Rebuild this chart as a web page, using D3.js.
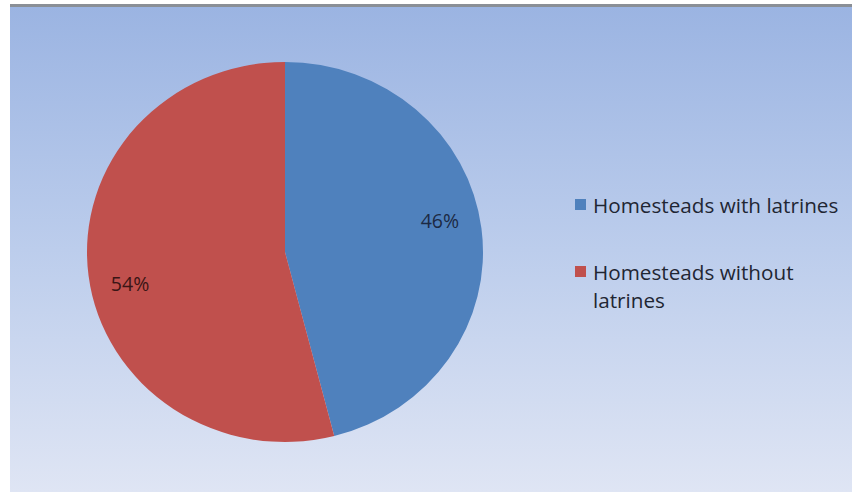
<!DOCTYPE html>
<html><head><meta charset="utf-8">
<script src="https://cdn.jsdelivr.net/npm/d3@7/dist/d3.min.js"></script>
<style>html,body{margin:0;padding:0;background:#fff;}svg{display:block;}</style>
</head><body>
<svg id="chart" width="852" height="492"></svg>
<script>
const categories = ["Homesteads with latrines", "Homesteads without latrines"];
const values = [46, 54];
const labels = ["46%", "54%"];
const legendLines = [["Homesteads with latrines"], ["Homesteads without", "latrines"]];
const colors = ["#4f81bd", "#c0504d"];

const svg = d3.select("#chart");
const defs = svg.append("defs");
const grad = defs.append("linearGradient").attr("id","bg").attr("x1",0).attr("y1",0).attr("x2",0).attr("y2",1);
grad.append("stop").attr("offset","0%").attr("stop-color","#9bb4e2");
grad.append("stop").attr("offset","50%").attr("stop-color","#bccdec");
grad.append("stop").attr("offset","100%").attr("stop-color","#dfe5f4");

svg.append("rect").attr("x",10).attr("y",7).attr("width",842).attr("height",485).attr("fill","url(#bg)");
svg.append("rect").attr("x",10).attr("y",4).attr("width",842).attr("height",3).attr("fill","#8a8f96");

const cx = 285, cy = 252, rx = 198, ry = 190;
const pie = d3.pie().sort(null).value(d => d)(values);
const arc = d3.arc().innerRadius(0).outerRadius(ry);
const g = svg.append("g").attr("transform", `translate(${cx},${cy}) scale(${rx/ry},1)`);
g.selectAll("path").data(pie).join("path")
  .attr("d", arc).attr("fill", (d,i) => colors[i]);

const labelR = ry * 0.80, shift = -4.8 * Math.PI / 180;
const lg = svg.append("g").attr("transform", `translate(${cx},${cy})`);
lg.selectAll("text").data(pie).join("text")
  .attr("x", d => Math.sin((d.startAngle + d.endAngle)/2 + shift) * labelR * rx/ry)
  .attr("y", d => -Math.cos((d.startAngle + d.endAngle)/2 + shift) * labelR)
  .attr("text-anchor","middle").attr("dominant-baseline","central")
  .attr("font-family","'Open Sans', sans-serif").attr("font-size",19.5)
  .attr("fill", (d,i) => i===0 ? "#1c2a44" : "#3a1515")
  .text((d,i) => labels[i]);

const legend = svg.append("g").attr("transform","translate(575,0)");
const legY = [205, 272];
legendLines.forEach((lines, i) => {
  legend.append("rect").attr("x",0).attr("y",legY[i]-6).attr("width",11).attr("height",11).attr("fill",colors[i]);
  lines.forEach((t, j) => {
    legend.append("text").attr("x",18).attr("y",legY[i] + j*28)
      .attr("dominant-baseline","central")
      .attr("font-family","'Open Sans', sans-serif").attr("font-size",20.7)
      .attr("fill","#1f2633").text(t);
  });
});
</script>
</body></html>
